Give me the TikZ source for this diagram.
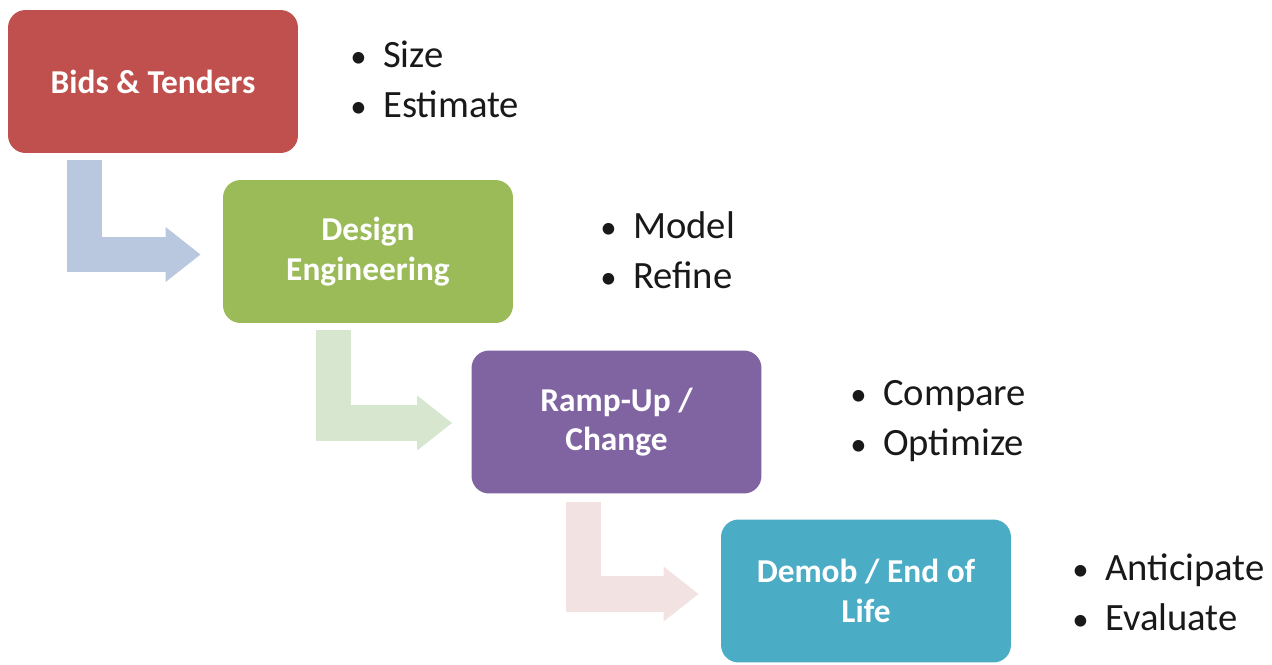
\documentclass[tikz,border=0pt]{standalone}
\usepackage{fontspec}
\setmainfont{Carlito}
\usepackage{tikz}
\usetikzlibrary{arrows.meta, positioning, calc}
\definecolor{stred}{RGB}{192,80,77}
\definecolor{stgreen}{RGB}{155,187,89}
\definecolor{stpurple}{RGB}{128,100,162}
\definecolor{stteal}{RGB}{75,172,198}
\definecolor{arblue}{RGB}{185,200,223}
\definecolor{argreen}{RGB}{214,230,207}
\definecolor{arpink}{RGB}{243,226,226}
\definecolor{txtdark}{RGB}{25,25,25}
\newcommand{\bul}[1]{\makebox[0.85em][l]{\scalebox{0.85}{\textbullet}}#1}
\tikzset{
  stage/.style={rectangle, fill=#1, text=white,
    minimum width=5.8cm, minimum height=2.86cm,
    align=center, font=\fontsize{19}{22.5}\selectfont\bfseries,
    rounded corners=10pt},
  points/.style={anchor=west, align=left, text=txtdark,
    font=\fontsize{22}{28.4}\selectfont, inner sep=0pt},
  bend/.style={draw=#1, line width=20pt,
    -{Triangle[length=20pt, width=30pt]}}
}

\begin{document}
\begin{tikzpicture}[x=0.02cm, y=-0.02cm]
  \useasboundingbox (0,0) rectangle (1272,664);

  % Stages
  \node[stage=stred] (bids) at (153, 81.5) {Bids \& Tenders};
  \node[stage=stgreen] (design) at (368, 251.5) {Design\\Engineering};
  \node[stage=stpurple] (ramp) at (616.5, 422) {Ramp-Up /\\Change};
  \node[stage=stteal] (demob) at (866, 591) {Demob / End of\\Life};

  % Bullet points
  \node[points] (bidsl) at (350, 79) {\bul{Size}\\\bul{Estimate}};
  \node[points] (designl) at (600, 250) {\bul{Model}\\\bul{Refine}};
  \node[points] (rampl) at (850, 421) {\bul{Compare}\\\bul{Optimize}};
  \node[points] (demobl) at (1072, 592) {\bul{Anticipate}\\\bul{Evaluate}};

  % Bent arrows
  \draw[bend=arblue] ($(bids.south west)+(77,7)$) |- ($(design.west)+(-22,3)$);
  \draw[bend=argreen] ($(design.south west)+(111,7)$) |- ($(ramp.west)+(-19,1)$);
  \draw[bend=arpink] ($(ramp.south west)+(112,8)$) |- ($(demob.west)+(-22,3)$);

\end{tikzpicture}
\end{document}
